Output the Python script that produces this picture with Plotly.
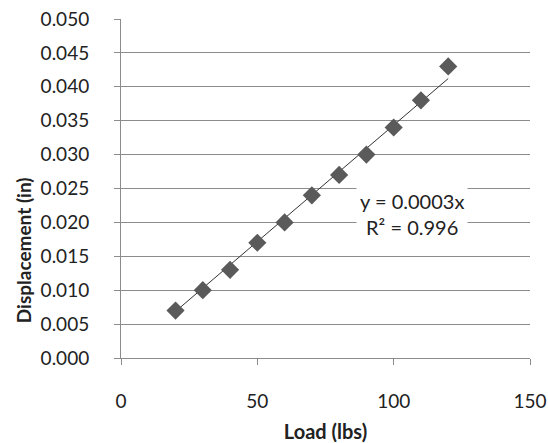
import numpy as np
import plotly.graph_objects as go

load_lbs = [20, 30, 40, 50, 60, 70, 80, 90, 100, 110, 120]
displacement_in = [0.007, 0.010, 0.013, 0.017, 0.020, 0.024, 0.027, 0.030, 0.034, 0.038, 0.043]
eq_text = "y = 0.0003x<br>R² = 0.996"
x_title = "<b>Load (lbs)</b>"
y_title = "<b>Displacement (in)</b>"

x = np.array(load_lbs, dtype=float)
y = np.array(displacement_in, dtype=float)
slope = float((x * y).sum() / (x * x).sum())
trend_x = [x.min(), x.max()]
trend_y = [slope * v for v in trend_x]

FONT = "Lato, Open Sans, sans-serif"
GRID = "#8c8c8c"
TXT = "#222222"

fig = go.Figure()
fig.add_trace(go.Scatter(x=trend_x, y=trend_y, mode="lines",
                         line=dict(color="#333333", width=1), hoverinfo="skip", showlegend=False))
fig.add_trace(go.Scatter(x=load_lbs, y=displacement_in, mode="markers",
                         marker=dict(symbol="diamond", size=14, color="#5a5a5a",
                                     line=dict(width=0)), showlegend=False))

fig.add_annotation(x=106.8, y=0.0212, xref="x", yref="y", text=eq_text, showarrow=False,
                   font=dict(family=FONT, size=20, color=TXT), bgcolor="white",
                   borderpad=3, align="center")

fig.add_annotation(x=0, y=0.318, xref="paper", yref="paper", xshift=-98, xanchor="center",
                   yanchor="middle", text=y_title, textangle=-90, showarrow=False,
                   font=dict(family=FONT, size=19, color=TXT))

fig.update_xaxes(range=[0, 150], dtick=50, tick0=0, showgrid=False, zeroline=False,
                 showline=True, linecolor=GRID, linewidth=1, ticks="outside", ticklen=6,
                 tickcolor=GRID, ticklabelstandoff=20, automargin=False,
                 tickfont=dict(family=FONT, size=19, color=TXT),
                 title=dict(text=x_title, font=dict(family=FONT, size=20, color=TXT),
                            standoff=14))
fig.update_yaxes(range=[0, 0.05], dtick=0.005, tick0=0, tickformat=".3f", showgrid=True,
                 gridcolor=GRID, gridwidth=1, zeroline=False, showline=True, linecolor=GRID,
                 linewidth=1, ticks="outside", ticklen=6, tickcolor=GRID, ticklabelstandoff=21,
                 automargin=False, tickfont=dict(family=FONT, size=19, color=TXT))

fig.update_layout(width=548, height=443, margin=dict(l=121, r=18, t=19, b=85),
                  paper_bgcolor="white", plot_bgcolor="white")
fig.write_html("out.html", config={"displayModeBar": False},
               post_script="document.body.style.margin='0';document.body.style.padding='0';")
